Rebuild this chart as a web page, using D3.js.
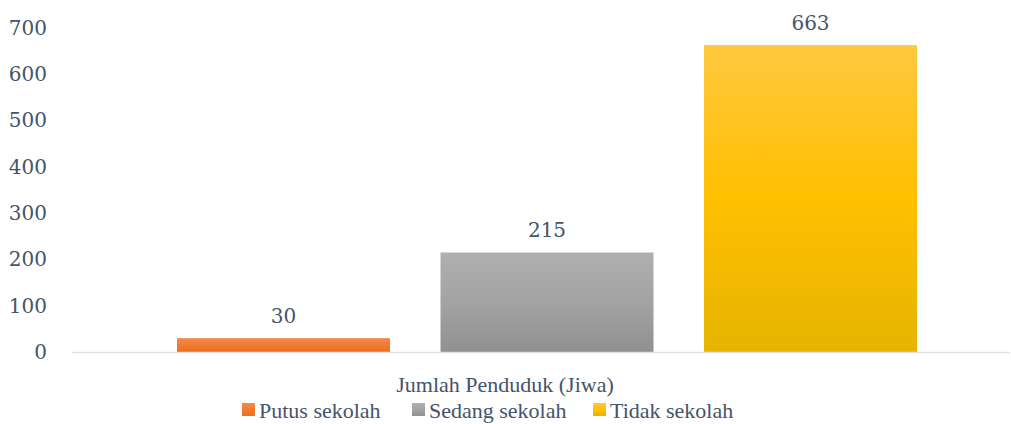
<!DOCTYPE html>
<html>
<head>
<meta charset="utf-8">
<script src="https://cdn.jsdelivr.net/npm/d3@7"></script>
<style>
  body { margin: 0; background: #fff; }
  text { fill: #44546a; }
</style>
</head>
<body>
<div id="chart"></div>
<script>
// data
var category = "Jumlah Penduduk (Jiwa)";
var seriesNames = ["Putus sekolah", "Sedang sekolah", "Tidak sekolah"];
var seriesValues = [30, 215, 663];
var yTicks = [0, 100, 200, 300, 400, 500, 600, 700];

// colours: top, middle, bottom of each bar gradient
var gradStops = [
	["#f48b4e", "#ef7b30", "#ec6f22"],
	["#afafaf", "#a3a3a3", "#909090"],
	["#ffc83f", "#ffc000", "#e6b400"]
];

var width = 1011, height = 424;
var numFont = "'DejaVu Serif', serif";
var txtFont = "'Liberation Serif', serif";

var svg = d3.select("#chart")
	.append("svg")
		.attr("width", width)
		.attr("height", height);

// gradients
var defs = svg.append("defs");
gradStops.forEach(function (c, i) {
	var g = defs.append("linearGradient")
		.attr("id", "grad" + i)
		.attr("x1", "0%").attr("y1", "0%")
		.attr("x2", "0%").attr("y2", "100%");
	g.append("stop").attr("offset", "0%").attr("stop-color", c[0]);
	g.append("stop").attr("offset", "50%").attr("stop-color", c[1]);
	g.append("stop").attr("offset", "100%").attr("stop-color", c[2]);
});

// scales
var y = d3.scaleLinear().domain([0, 700]).range([352, 28]);
var x = d3.scaleBand().domain(seriesNames).range([177, 917]).paddingInner(0.1917).paddingOuter(0);

// y axis labels
var yAxis = svg.append("g")
		.attr("transform", "translate(47,0)")
		.call(d3.axisLeft(y).tickValues(yTicks).tickSize(0).tickPadding(0));
yAxis.select(".domain").remove();
yAxis.selectAll("text")
		.attr("font-family", numFont)
		.attr("font-size", "20px")
		.style("fill", "#44546a");

// bars
svg.selectAll(".bar")
	.data(seriesValues)
	.enter().append("rect")
		.attr("class", "bar")
		.attr("x", function (d, i) { return x(seriesNames[i]); })
		.attr("y", function (d) { return y(d); })
		.attr("width", x.bandwidth())
		.attr("height", function (d) { return y(0) - y(d); })
		.style("fill", function (d, i) { return "url(#grad" + i + ")"; });

// baseline
svg.append("line")
		.attr("x1", 72).attr("x2", 1010)
		.attr("y1", y(0) + 0.5).attr("y2", y(0) + 0.5)
		.attr("stroke", "#dde1e6")
		.attr("stroke-width", 1.5);

// value labels
svg.selectAll(".val")
	.data(seriesValues)
	.enter().append("text")
		.attr("class", "val")
		.attr("x", function (d, i) { return x(seriesNames[i]) + x.bandwidth() / 2; })
		.attr("y", function (d) { return y(d) - 15; })
		.attr("text-anchor", "middle")
		.attr("font-family", numFont)
		.attr("font-size", "20px")
		.text(function (d) { return d; });

// category label
svg.append("text")
		.attr("x", 505)
		.attr("y", 392)
		.attr("text-anchor", "middle")
		.attr("font-family", txtFont)
		.attr("font-size", "22px")
		.text(category);

// legend
var legendX = [242, 412, 593];
var legend = svg.selectAll(".legend")
	.data(seriesNames)
	.enter().append("g")
		.attr("class", "legend")
		.attr("transform", function (d, i) { return "translate(" + legendX[i] + ",403)"; });

legend.append("rect")
		.attr("width", 13)
		.attr("height", 13)
		.style("fill", function (d, i) { return "url(#grad" + i + ")"; });

legend.append("text")
		.attr("x", 17)
		.attr("y", 15)
		.attr("font-family", txtFont)
		.attr("font-size", "22px")
		.text(function (d) { return d; });
</script>
</body>
</html>
